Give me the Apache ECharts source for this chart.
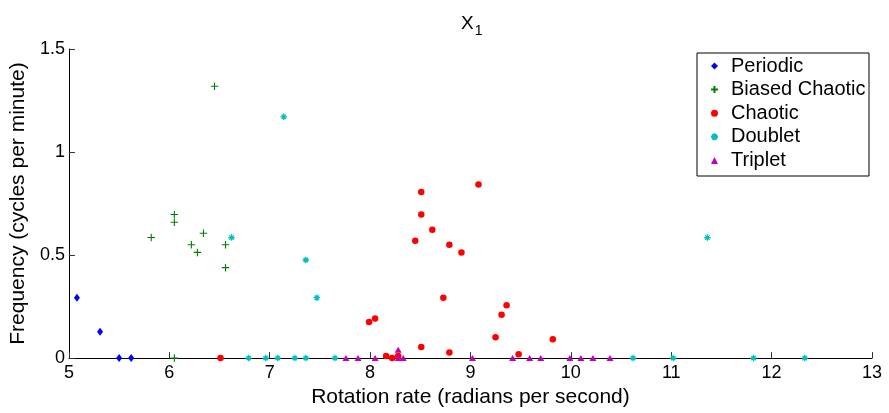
<!DOCTYPE html>
<html>
<head>
<meta charset="utf-8">
<script src="https://cdn.jsdelivr.net/npm/echarts@6/dist/echarts.min.js"></script>
<style>
html,body{margin:0;padding:0;background:#fff;}
#chart{width:889px;height:413px;}
</style>
</head>
<body>
<div id="chart"></div>
<script>
// ---- data ----
var seriesNames = ['Periodic', 'Biased Chaotic', 'Chaotic', 'Doublet', 'Triplet'];

var periodicX = [5.08, 5.31, 5.50, 5.62];
var periodicY = [0.293, 0.128, 0, 0];

var biasedX = [5.82, 6.05, 6.05, 6.05, 6.22, 6.28, 6.34, 6.45, 6.56, 6.56];
var biasedY = [0.585, 0.697, 0.659, 0, 0.55, 0.513, 0.606, 1.319, 0.55, 0.439];

var chaoticX = [6.51, 7.99, 8.05, 8.16, 8.22, 8.28, 8.45, 8.51, 8.51, 8.51, 8.62, 8.73, 8.79, 8.79, 8.91, 9.08, 9.25, 9.31, 9.36, 9.48, 9.82];
var chaoticY = [0, 0.175, 0.192, 0.01, 0, 0.01, 0.569, 0.806, 0.697, 0.054, 0.623, 0.293, 0.55, 0.027, 0.513, 0.843, 0.101, 0.21, 0.256, 0.019, 0.091];

var doubletX = [6.62, 7.14, 7.36, 7.47, 11.36, 6.79, 6.96, 7.08, 7.25, 7.36, 7.65, 10.62, 11.02, 11.82, 12.33];
var doubletY = [0.585, 1.171, 0.476, 0.293, 0.585, 0, 0, 0, 0, 0, 0, 0, 0, 0, 0];

var tripletX = [7.76, 7.88, 8.05, 8.28, 8.28, 8.33, 9.02, 9.42, 9.59, 9.70, 9.99, 10.10, 10.22, 10.39];
var tripletY = [0, 0, 0, 0.04, 0, 0, 0, 0, 0, 0, 0, 0, 0, 0];

var xTicks = [5, 6, 7, 8, 9, 10, 11, 12, 13];
var yTicks = [0, 0.5, 1, 1.5];

function pairs(xs, ys) {
  return xs.map(function (x, i) { return [x, ys[i]]; });
}

var FONT = 'Liberation Sans, Arial, sans-serif';
var plusPath = 'path://M0 5L10 5M5 0L5 10';
var starPath = 'path://M0 5L10 5M5 0L5 10M1.6 1.6L8.4 8.4M8.4 1.6L1.6 8.4';

var chart = echarts.init(document.getElementById('chart'), null, {renderer: 'canvas'});
chart.setOption({
  animation: false,
  backgroundColor: '#fff',
  textStyle: {fontFamily: FONT, color: '#000'},
  title: {
    text: '{x|X}{s|1}',
    left: 456,
    top: 9,
    textStyle: {
      fontWeight: 'normal',
      rich: {
        x: {fontSize: 19, fontFamily: FONT, fontWeight: 'normal', color: '#000', lineHeight: 20},
        s: {fontSize: 14, fontFamily: FONT, fontWeight: 'normal', color: '#000', lineHeight: 20, padding: [14, 0, 0, 1]}
      }
    }
  },
  grid: {left: 68, right: 17, top: 49, bottom: 52, containLabel: false},
  xAxis: {
    type: 'value',
    min: xTicks[0],
    max: xTicks[xTicks.length - 1],
    interval: 1,
    name: 'Rotation rate (radians per second)',
    nameLocation: 'middle',
    nameGap: 25,
    nameTextStyle: {fontSize: 21, fontFamily: FONT, color: '#000'},
    axisLine: {show: true, onZero: false, lineStyle: {color: '#000', width: 1}},
    axisTick: {show: true, inside: true, length: 6, lineStyle: {color: '#333'}},
    axisLabel: {fontSize: 18, fontFamily: FONT, color: '#000', margin: 6},
    splitLine: {show: false}
  },
  yAxis: {
    type: 'value',
    min: yTicks[0],
    max: yTicks[yTicks.length - 1],
    interval: 0.5,
    name: 'Frequency (cycles per minute)',
    nameLocation: 'middle',
    nameGap: 28,
    nameTextStyle: {fontSize: 21, fontFamily: FONT, color: '#000'},
    axisLine: {show: true, onZero: false, lineStyle: {color: '#000', width: 1}},
    axisTick: {show: true, inside: true, length: 6, lineStyle: {color: '#333'}},
    axisLabel: {fontSize: 18, fontFamily: FONT, color: '#000', margin: 4},
    splitLine: {show: false}
  },
  legend: {
    orient: 'vertical',
    left: 710,
    top: 56,
    padding: 0,
    itemWidth: 7,
    itemHeight: 7,
    itemGap: 3.6,
    textStyle: {fontSize: 20, fontFamily: FONT, color: '#000', lineHeight: 20, padding: [0, 0, 0, 8]},
    data: seriesNames
  },
  graphic: [{
    type: 'rect',
    shape: {x: 697, y: 53, width: 172, height: 123},
    style: {fill: 'none', stroke: '#000', lineWidth: 1},
    z: 100
  }],
  series: [
    {
      name: seriesNames[0], type: 'scatter', symbol: 'diamond', symbolSize: [6, 8], symbolKeepAspect: true,
      itemStyle: {color: '#0000ff', opacity: 1},
      data: pairs(periodicX, periodicY)
    },
    {
      name: seriesNames[1], type: 'scatter', symbol: plusPath, symbolSize: 7.5, symbolKeepAspect: true,
      itemStyle: {color: '#008000', borderColor: '#008000', borderWidth: 1.1, opacity: 1},
      data: pairs(biasedX, biasedY)
    },
    {
      name: seriesNames[2], type: 'scatter', symbol: 'circle', symbolSize: 6.5, symbolKeepAspect: true,
      itemStyle: {color: '#ff0000', opacity: 1},
      data: pairs(chaoticX, chaoticY)
    },
    {
      name: seriesNames[3], type: 'scatter', symbol: starPath, symbolSize: 6.5, symbolKeepAspect: true,
      itemStyle: {color: '#00bfbf', borderColor: '#00bfbf', borderWidth: 1.3, opacity: 1},
      data: pairs(doubletX, doubletY)
    },
    {
      name: seriesNames[4], type: 'scatter', symbol: 'triangle', symbolSize: [7, 6], symbolKeepAspect: true,
      itemStyle: {color: '#bf00bf', opacity: 1},
      data: pairs(tripletX, tripletY)
    }
  ]
});
</script>
</body>
</html>
